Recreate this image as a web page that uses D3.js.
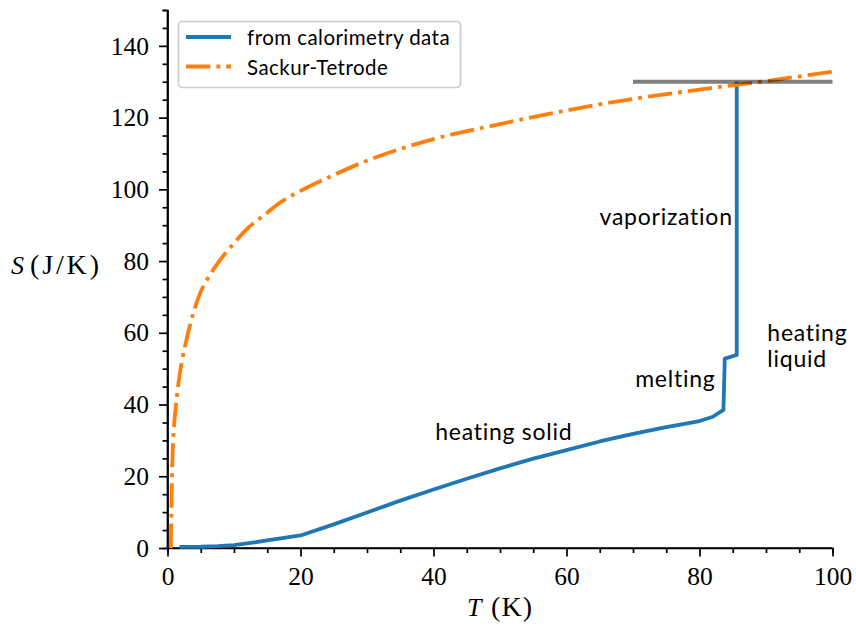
<!DOCTYPE html>
<html>
<head>
<meta charset="utf-8">
<script src="https://cdn.jsdelivr.net/npm/d3@7"></script>
<style>
  html, body { margin: 0; padding: 0; background: #fff; }
  svg { display: block; }
</style>
</head>
<body>
<div id="chart"></div>
<script>
// Entropy of the gas: calorimetry integration vs. Sackur-Tetrode prediction
const calT = [1.8, 5, 7.5, 10, 12.5, 15, 17.5, 20, 25, 30, 35, 40, 45, 50, 55, 60, 65, 70, 75, 80, 82, 83.6, 83.8, 85.6, 85.6];
const calS = [0.3, 0.35, 0.5, 0.8, 1.4, 2.1, 2.8, 3.5, 6.6, 9.9, 13.2, 16.3, 19.3, 22.2, 24.9, 27.3, 29.7, 31.8, 33.7, 35.4, 36.6, 38.5, 52.8, 53.8, 130];

const stT = [0.5, 0.58, 0.66, 0.78, 1.0, 1.2, 1.65, 2.2, 2.8, 3.5, 4.9, 6, 7.6, 10, 11.7, 15, 17, 21, 25, 30, 40, 50, 60, 70, 80, 90, 100];
const stS = [0, 10, 19, 27, 34.5, 38.5, 46, 52.5, 57.6, 63, 71, 75, 79.5, 85, 88.5, 93.5, 96.4, 100.5, 104, 108, 114, 118.2, 122, 125.2, 127.8, 130.2, 132.8];

const vapLevel = [130];
const vapRange = [70, 100];

const xTicks = [0, 20, 40, 60, 80, 100];
const yTicks = [0, 20, 40, 60, 80, 100, 120, 140];

const legendLabels = ["from calorimetry data", "Sackur-Tetrode"];
const notes = [
  { text: ["vaporization"], T: 85.0, S: 90.05, anchor: "end" },
  { text: ["melting"], T: 82.4, S: 45.0, anchor: "end" },
  { text: ["heating solid"], T: 40.25, S: 30.1, anchor: "start" },
  { text: ["heating", "liquid"], T: 90.2, S: 57.8, anchor: "start" }
];

const W = 856, H = 629;
const blue = "#1f77b4", orange = "#ff7f0e";
const sans = "Lato, 'Open Sans', sans-serif";
const serif = "'Liberation Serif', 'DejaVu Serif', serif";
const lw = 3.8;
const dashDot = [6.4, 1.6, 1, 1.6].map(v => v * lw).join(",");

const svg = d3.select("#chart").append("svg").attr("width", W).attr("height", H);
svg.append("rect").attr("width", W).attr("height", H).attr("fill", "#fff");

const x = d3.scaleLinear().domain([0, 100]).range([167.5, 832.5]);
const y = d3.scaleLinear().domain([0, 150]).range([548, 10]);

// axes: major ticks with labels, minor ticks every 5
const xAxis = svg.append("g").attr("transform", `translate(0,${y(0)})`)
  .call(d3.axisBottom(x).tickValues(xTicks).tickSize(8.5).tickPadding(10).tickFormat(d3.format("d")));
svg.append("g").attr("transform", `translate(0,${y(0)})`)
  .call(d3.axisBottom(x).tickValues(d3.range(0, 101, 5).filter(v => v % 20)).tickSize(5).tickFormat(""));
const yAxis = svg.append("g").attr("transform", `translate(${x(0)},0)`)
  .call(d3.axisLeft(y).tickValues(yTicks).tickSize(8.5).tickPadding(10).tickFormat(d3.format("d")));
svg.append("g").attr("transform", `translate(${x(0)},0)`)
  .call(d3.axisLeft(y).tickValues(d3.range(0, 151, 5).filter(v => v % 20)).tickSize(5).tickFormat(""));

svg.selectAll(".domain").attr("stroke", "#000").attr("stroke-width", 1.7);
svg.selectAll(".tick line").attr("stroke", "#000").attr("stroke-width", 1.7);
svg.selectAll(".tick text").attr("font-family", serif).attr("font-size", 25.5).attr("fill", "#000");
xAxis.selectAll(".domain").attr("d", `M${x(0)},0H${x(100)}`);
yAxis.selectAll(".domain").attr("d", `M0,${y(150)}V${y(0)}`);

// axis titles
const xl = svg.append("text").attr("y", 616).attr("font-family", serif).attr("font-size", 26);
xl.append("tspan").attr("x", 467).attr("font-style", "italic").text("T");
xl.append("tspan").attr("x", 491).attr("font-size", 28).attr("textLength", 41).attr("lengthAdjust", "spacing").text("(K)");
const yl = svg.append("text").attr("y", 273.5).attr("font-family", serif).attr("font-size", 26);
yl.append("tspan").attr("x", 11).attr("font-style", "italic").text("S");
yl.append("tspan").attr("x", 30).attr("font-size", 28).attr("textLength", 69).attr("lengthAdjust", "spacing").text("(J/K)");

// curves
const calData = calT.map((t, i) => [t, calS[i]]);
const stData = stT.map((t, i) => [t, stS[i]]);

const plot = svg.append("g");
plot.append("path").datum(calData)
  .attr("d", d3.line().x(d => x(d[0])).y(d => y(d[1])))
  .attr("fill", "none").attr("stroke", blue).attr("stroke-width", lw).attr("stroke-linejoin", "round");
plot.append("path").datum(stData)
  .attr("d", d3.line().x(d => x(d[0])).y(d => y(d[1])).curve(d3.curveMonotoneX))
  .attr("fill", "none").attr("stroke", orange).attr("stroke-width", lw)
  .attr("stroke-dasharray", dashDot);
plot.append("line")
  .attr("x1", x(vapRange[0])).attr("x2", x(vapRange[1]))
  .attr("y1", y(vapLevel[0])).attr("y2", y(vapLevel[0]))
  .attr("stroke", "#000").attr("stroke-opacity", 0.5).attr("stroke-width", lw);

// annotations
notes.forEach(n => {
  const t = svg.append("text")
    .attr("x", x(n.T)).attr("y", y(n.S)).attr("text-anchor", n.anchor)
    .attr("font-family", sans).attr("font-size", 23).attr("letter-spacing", 0.75).attr("fill", "#000");
  n.text.forEach((s, i) => t.append("tspan").attr("x", x(n.T)).attr("dy", i ? 26 : 0).text(s));
});

// legend
const lg = svg.append("g");
lg.append("rect").attr("x", 178.5).attr("y", 21.5).attr("width", 282).attr("height", 66).attr("rx", 4)
  .attr("fill", "#fff").attr("fill-opacity", 0.8).attr("stroke", "#cccccc").attr("stroke-width", 1.7);
const legStyles = [{ c: blue, dash: null }, { c: orange, dash: dashDot }];
legendLabels.forEach((lab, i) => {
  const yy = 37 + i * 29.5;
  lg.append("line").attr("x1", 186).attr("x2", 231).attr("y1", yy).attr("y2", yy)
    .attr("stroke", legStyles[i].c).attr("stroke-width", lw).attr("stroke-dasharray", legStyles[i].dash);
  lg.append("text").attr("x", 247).attr("y", yy + 8).attr("font-family", sans)
    .attr("font-size", 20.5).attr("letter-spacing", 0.45).attr("fill", "#000").text(lab);
});
</script>
</body>
</html>
